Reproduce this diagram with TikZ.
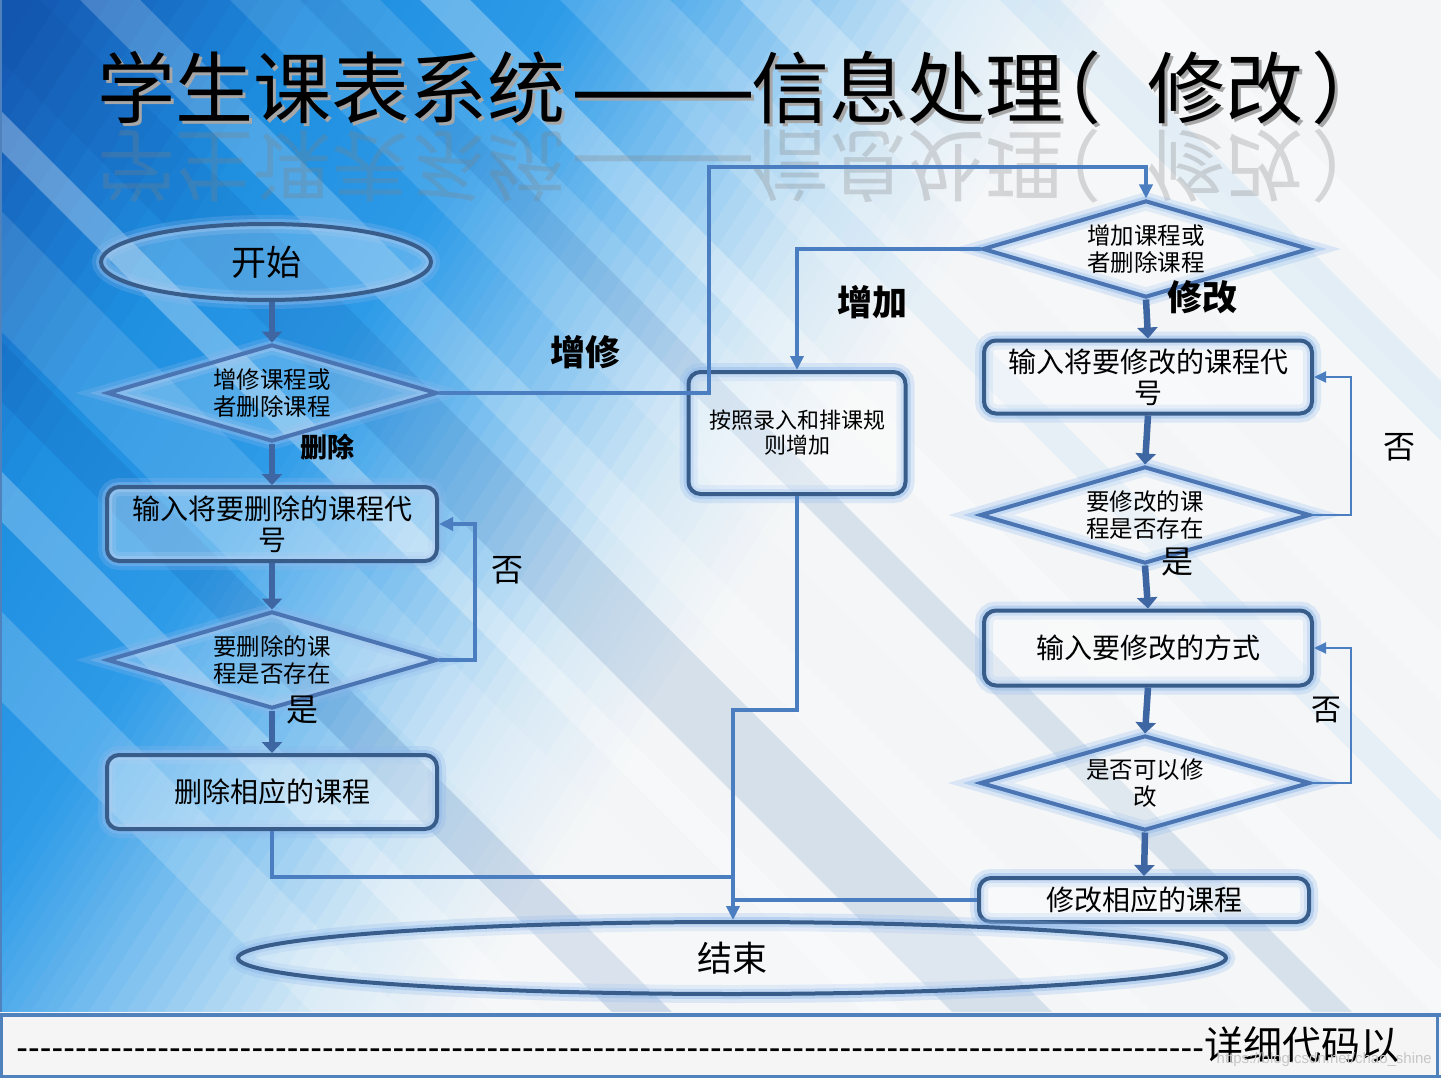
\documentclass[tikz,border=0pt]{standalone}
\usepackage{fontspec}
\setmainfont{Noto Sans CJK SC}
\newfontfamily\latinsans{Liberation Sans}
\usetikzlibrary{shapes.geometric,arrows.meta}
\definecolor{bgA}{HTML}{1558B2}
\definecolor{bgB}{HTML}{1E8EE0}
\definecolor{bgBB}{HTML}{2E9BE8}
\definecolor{bgC}{HTML}{6DB9EE}
\definecolor{bgD}{HTML}{D2E7F5}
\definecolor{bgE}{HTML}{F3F5F7}
\definecolor{bgdark}{HTML}{0A4A9A}
\definecolor{boxc}{HTML}{385D8A}
\definecolor{diac}{HTML}{4A74B2}
\definecolor{glowc}{HTML}{8DB8EC}
\definecolor{flowc}{HTML}{3E66A2}
\definecolor{connc}{HTML}{4A7EC0}
\definecolor{stripbg}{HTML}{F5F5F5}
\definecolor{stripline}{HTML}{4F81BD}
\newcommand{\titletxt}{学生课表系统\kern10pt{\latinsans\fontsize{88}{78}\selectfont——}信息处理\kern-40pt（\kern46pt修改\kern8pt）}
\begin{document}
\begin{tikzpicture}[x=1pt,y=-1pt,
 shapeline/.style={draw=boxc, line width=4pt},
 glow/.style={preaction={draw=glowc, line width=18pt, draw opacity=0.25}, preaction={draw=glowc, line width=10pt, draw opacity=0.45}},
 proc/.style={rectangle, rounded corners=12pt, shapeline, glow, fill=white, fill opacity=0.3, text opacity=1, minimum width=330pt, minimum height=74pt, inner sep=0pt, align=center, font=\fontsize{28}{31}\selectfont},
 decis/.style={diamond, aspect=3.4, draw=diac, line width=4pt, glow, fill=white, fill opacity=0.2, text opacity=1, minimum width=330pt, minimum height=97pt, inner sep=0pt, align=center, font=\fontsize{23.5}{27}\selectfont},
 term/.style={ellipse, shapeline, glow, fill=white, fill opacity=0.2, text opacity=1, inner sep=0pt, font=\fontsize{35}{38}\selectfont},
 flow/.style={draw=flowc, line width=6.5pt, -{Triangle[width=20pt,length=11pt]}},
 conn/.style={draw=connc, line width=3.5pt},
 connarrow/.style={conn, -{Triangle[width=13pt,length=14pt]}},
 loopline/.style={draw=connc, line width=2.2pt, -{Triangle[width=11pt,length=12pt]}},
 lab/.style={font=\bfseries\fontsize{35}{35}\selectfont, inner sep=0pt},
 yn/.style={font=\fontsize{32}{32}\selectfont, inner sep=0pt},
 titlefont/.style={inner sep=0pt, anchor=west, font=\fontsize{78}{78}\selectfont}
]
\useasboundingbox (0,0) rectangle (1441,1078);
% background
\begin{scope}
\clip (0,0) rectangle (1441,1012);
\fill[bgE] (0,0) rectangle (1441,1012);
\begin{scope}[shift={(720,506)}, rotate=-33]
\fill[bgA] (-1600,-1600) rectangle (-849,1600);
\foreach \ca/\cb/\da/\db in {bgA/bgB/-850/-600, bgB/bgBB/-600/-400, bgBB/bgC/-400/-270, bgC/bgD/-270/-80, bgD/bgE/-80/60}{
  \foreach \k in {0,...,11}{
    \pgfmathsetmacro{\xa}{\da+(\db-\da)*\k/12}
    \pgfmathsetmacro{\xb}{\da+(\db-\da)*(\k+1)/12+1}
    \pgfmathsetmacro{\pc}{(\k+0.5)*100/12}
    \fill[\cb!\pc!\ca] (\xa,-1600) rectangle (\xb,1600);
  }
}
\end{scope}
\foreach \a/\w/\o/\c in {-700/90/0.18/white, -520/50/0.25/white, -400/60/0.15/bgdark, -330/120/0.12/white, -150/40/0.3/white, -60/100/0.12/bgdark, 80/60/0.2/white, 230/150/0.12/white, 300/40/0.12/bgdark, 420/50/0.3/white, 560/110/0.15/white, 740/70/0.25/white, 900/130/0.2/white, 1100/60/0.3/white, 600/40/0.1/bgC, 1000/60/0.12/bgC}
  \fill[\c, opacity=\o] (\a,0) -- ++(\w,0) -- ++(1012,1012) -- ++(-\w,0) -- cycle;
\end{scope}
\draw[stripline, line width=1.5pt] (0.75,0) -- (0.75,1012);
% bottom strip
\fill[stripbg] (0,1012) rectangle (1441,1078);
\draw[stripline, line width=4pt] (0,1015) -- (1441,1015);
\draw[stripline, line width=3pt] (1.5,1015) -- (1.5,1078);
\draw[stripline, line width=3pt] (1437.5,1015) -- (1437.5,1078);
\draw[stripline, line width=3pt] (0,1076.5) -- (1441,1076.5);
\node[anchor=west, inner sep=0pt] (foot) at (16,1045) {\hbox to 1188pt{\latinsans\fontsize{35}{35}\selectfont\xleaders\hbox{-}\hfill}\fontsize{39}{39}\selectfont 详细代码以};
\node[anchor=east, inner sep=0pt, text=gray!45] (wm) at (1432,1060) {\latinsans\fontsize{15}{15}\selectfont https://blog.csdn.net/chao\_shine};
% title
\begin{scope}[shift={(97,166)}]
\node[yscale=-1, transform shape, text=gray, opacity=0.28, titlefont] (titleref) at (0,0) {\titletxt};
\end{scope}
\node[text=gray!70, titlefont] (titlesh) at (100,91) {\titletxt};
\node[text=black, titlefont] (title) at (97,88) {\titletxt};
% nodes
\node[term, minimum width=330pt, minimum height=76pt] (start) at (266,262) {开始};
\node[decis] (d1) at (272,393) {增修课程或\\者删除课程};
\node[proc] (b1) at (272,524) {输入将要删除的课程代\\号};
\node[decis] (d2) at (272,660) {要删除的课\\程是否存在};
\node[proc] (b2) at (272,792) {删除相应的课程};
\node[decis, minimum width=327pt] (d3) at (1146,249) {增加课程或\\者删除课程};
\node[proc, minimum width=217pt, minimum height=122pt, font=\fontsize{22}{25}\selectfont] (b3) at (797,433) {按照录入和排课规\\则增加};
\node[proc, minimum width=328pt, minimum height=73pt] (b4) at (1148,377) {输入将要修改的课程代\\号};
\node[decis] (d4) at (1145,515) {要修改的课\\程是否存在};
\node[proc, minimum width=328pt, minimum height=75pt] (b5) at (1148,648) {输入要修改的方式};
\node[decis, minimum height=95pt] (d5) at (1145,783) {是否可以修\\改};
\node[proc, minimum width=330pt, minimum height=44pt] (b6) at (1144,900) {修改相应的课程};
\node[term, minimum width=988pt, minimum height=72pt] (end) at (732,958) {结束};
% coordinates
\coordinate (j1) at (709,167);
\coordinate (j2) at (733,710);
\coordinate (j3) at (733,877);
% connectors
\draw[flow] (d1.north |- start.south) -- (d1.north);
\draw[flow] (d1.south) -- (b1.north);
\draw[flow] (b1.south) -- (d2.north);
\draw[flow] (d2.south) -- (b2.north);
\draw[connarrow] (d2.east) -- ++(36,0) |- (b1.east);
\draw[connarrow] (d1.east) -| (j1) -| (d3.north);
\draw[connarrow] (d3.west) -| (b3.north);
\draw[connarrow] (b3.south) |- (j2) -- (j2 |- end.north);
\draw[conn] (b2.south) |- (j3);
\draw[conn] (b6.west) -- (b6.west -| j2);
\draw[flow] (d3.south) -- (b4.north);
\draw[flow] (b4.south) -- (d4.north);
\draw[flow] (d4.south) -- (b5.north);
\draw[flow] (b5.south) -- (d5.north);
\draw[flow] (d5.south) -- (b6.north);
\draw[loopline] (d4.east) -- ++(39,0) |- (b4.east);
\draw[loopline] (d5.east) -- ++(39,0) |- (b5.east);
% labels
\node[lab] (l1) at (585,352) {增修};
\node[lab, font=\bfseries\fontsize{27}{27}\selectfont] (l2) at (327,447) {删除};
\node[lab] (l3) at (872,302) {增加};
\node[lab] (l4) at (1202,297) {修改};
\node[yn] (n1) at (507,570) {否};
\node[yn] (y1) at (302,710) {是};
\node[yn] (n2) at (1399,447) {否};
\node[yn] (y2) at (1177,562) {是};
\node[yn, font=\fontsize{30}{30}\selectfont] (n3) at (1326,710) {否};
\end{tikzpicture}
\end{document}
